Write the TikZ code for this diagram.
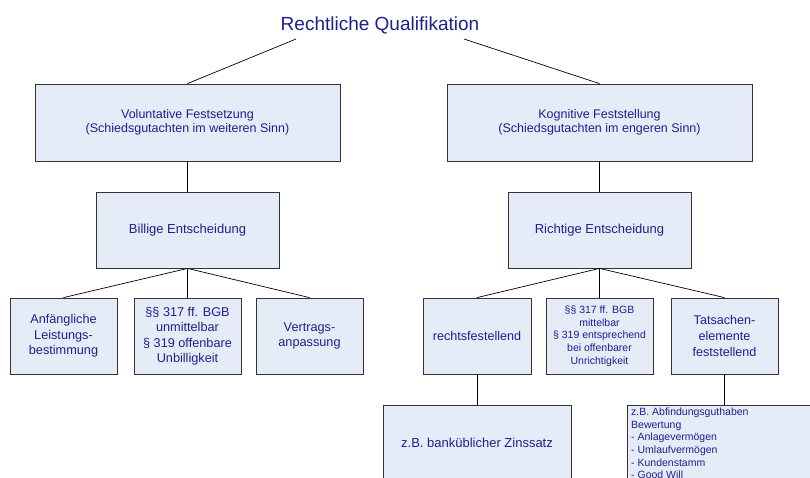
\documentclass[tikz,border=0pt]{standalone}
\usepackage{fontspec}
\setmainfont{Liberation Sans}
\definecolor{boxfill}{HTML}{E6ECF7}
\definecolor{boxtext}{HTML}{1F1F8F}
\newcommand{\fs}[2]{\fontsize{#1}{#2}\selectfont}
\tikzset{
  kasten/.style={draw=black!80, fill=boxfill, text=boxtext, align=center,
    inner sep=0pt, line width=0.8pt},
  ast/.style={draw=black, line width=0.7pt}
}

\begin{document}
\begin{tikzpicture}[x=1pt,y=-1pt]
    \useasboundingbox (0,0) rectangle (810,477);
    \clip (0,0) rectangle (810,477);
    % Titel
    \node[text=boxtext, font=\fs{19}{22}, anchor=base] (titel) at (380,30) {Rechtliche Qualifikation};
    \coordinate (tl) at (296,39);
    \coordinate (tr) at (464,39);
    % erste Ebene
    \node[kasten, minimum width=305pt, minimum height=77pt, font=\fs{12.5}{14.5}] (vol) at (187.5,122.5)
        {Voluntative Festsetzung\\(Schiedsgutachten im weiteren Sinn)};
    \node[kasten, minimum width=305pt, minimum height=77pt, font=\fs{12.5}{14.5}] (kog) at (599.5,122.5)
        {Kognitive Feststellung\\(Schiedsgutachten im engeren Sinn)};
    % zweite Ebene
    \node[kasten, minimum width=183pt, minimum height=76pt, font=\fs{13}{15.5}] (bill) at (187.5,230) {Billige Entscheidung};
    \node[kasten, minimum width=183pt, minimum height=76pt, font=\fs{13}{15.5}] (richt) at (599.5,230) {Richtige Entscheidung};
    % dritte Ebene
    \node[kasten, minimum width=107pt, minimum height=76pt, font=\fs{12.7}{15.5}] (anf) at (63.5,336)
        {Anf\"angliche\\Leistungs-\\bestimmung};
    \node[kasten, minimum width=107pt, minimum height=76pt, font=\fs{12.7}{15.5}] (bgbl) at (187.5,336)
        {\S\S\ 317 ff. BGB\\unmittelbar\\\S\ 319 offenbare\\Unbilligkeit};
    \node[kasten, minimum width=107pt, minimum height=76pt, font=\fs{12.7}{15.5}] (vert) at (309.5,336)
        {Vertrags-\\anpassung};
    \node[kasten, minimum width=108pt, minimum height=76pt, font=\fs{12.6}{15.7}] (rechts) at (477,336)
        {rechtsfestellend};
    \node[kasten, minimum width=107pt, minimum height=76pt, font=\fs{10.5}{12.7}] (bgbr) at (599.5,336)
        {\S\S\ 317 ff. BGB\\mittelbar\\\S\ 319 entsprechend\\bei offenbarer\\Unrichtigkeit};
    \node[kasten, minimum width=107pt, minimum height=76pt, font=\fs{12.6}{15.7}] (tats) at (724.5,336)
        {Tatsachen-\\elemente\\feststellend};
    % vierte Ebene
    \node[kasten, minimum width=188pt, minimum height=76pt, font=\fs{13}{15.5}] (zins) at (477,443)
        {z.B. bank\"ublicher Zinssatz};
    \node[kasten, anchor=north west, minimum width=188pt, minimum height=90pt] (abf) at (627,405) {};
    \node[text=boxtext, anchor=north west, align=left, inner sep=0pt, font=\fs{10.5}{12.7}] (abftext) at (631,407.5)
        {z.B. Abfindungsguthaben\\Bewertung\\- Anlageverm\"ogen\\- Umlaufverm\"ogen\\- Kundenstamm\\- Good Will};
    % Verbindungen
    \draw[ast] (tl) -- (vol.north);
    \draw[ast] (tr) -- (kog.north);
    \draw[ast] (vol.south) -- (bill.north);
    \draw[ast] (kog.south) -- (richt.north);
    \foreach \ziel in {anf, bgbl, vert}
    \draw[ast] (bill.south) -- (\ziel.north);
    \foreach \ziel in {rechts, bgbr, tats}
    \draw[ast] (richt.south) -- (\ziel.north);
    \draw[ast] (rechts.south) -- (zins.north);
    \draw[ast] (tats.south) -- (tats.south |- abf.north);
\end{tikzpicture}
\end{document}
